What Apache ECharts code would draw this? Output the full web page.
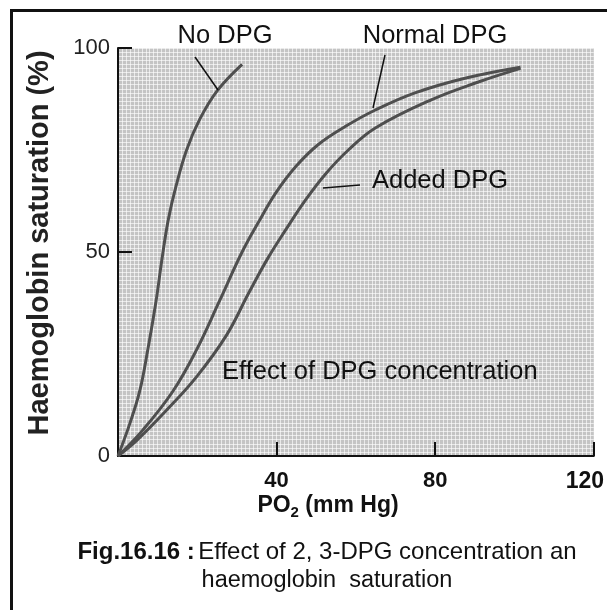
<!DOCTYPE html>
<html>
<head>
<meta charset="utf-8">
<style>
  html, body { margin: 0; padding: 0; background: #ffffff; }
  #chart { width: 607px; height: 610px; }
</style>
<script src="https://cdn.jsdelivr.net/npm/echarts@6/dist/echarts.min.js"></script>
</head>
<body>
<div id="chart"></div>
<script>
// Oxygen dissociation curves: [PO2 (mm Hg), saturation (%)]
const noDPG = [[0,0],[3,8],[5.5,16],[7.5,26],[9.6,38],[11.2,49],[12.7,58],[14.6,66],[17.3,75],[20.6,82.5],[25,89.5],[31.3,96]];
const normalDPG = [[0,0],[6.3,6.4],[13.8,15.8],[19.8,26],[25.6,38],[31.3,50],[35.6,57.6],[39.8,64.5],[44.9,71],[50.6,76.4],[57.4,80.8],[64.9,84.8],[74.9,89],[87.5,92.6],[101.5,95.3]];
const addedDPG = [[0,0],[4.8,3.9],[12.3,11.3],[19.8,19.4],[27.3,29.5],[33,40],[37.8,48.5],[42.4,55.6],[47.4,62.9],[52.4,69.2],[58.1,75],[64.9,80.4],[79,87.3],[90.7,91.6],[101.5,95]];

const xTicks = [0, 40, 80, 120];
const yTicks = [0, 50, 100];
const curveNames = ['No DPG', 'Normal DPG', 'Added DPG'];

const FONT = '"Liberation Sans", Arial, sans-serif';
const chart = echarts.init(document.getElementById('chart'), null, { renderer: 'canvas' });

const curveStyle = { color: '#4f4f4f', width: 3 };
function curve(name, data) {
  return {
    name: name,
    type: 'line',
    data: data,
    smooth: 0.4,
    symbol: 'none',
    lineStyle: curveStyle,
    xAxisIndex: 0,
    yAxisIndex: 0,
    z: 5
  };
}

// fine light mesh over the grey panel
const hiddenMesh = {
  type: 'value', min: 0, interval: 1,
  axisLine: { show: false }, axisTick: { show: false }, axisLabel: { show: false },
  splitLine: { show: true, lineStyle: { color: 'rgba(255,255,255,0.62)', width: 1 } }
};

function label(text, x, y, align) {
  return { type: 'text', x: x, y: y, z: 100,
    style: { text: text, fill: '#111', font: '25.5px ' + FONT, textAlign: align, textVerticalAlign: 'middle' } };
}
function leader(x1, y1, x2, y2) {
  return { type: 'line', z: 100, shape: { x1: x1, y1: y1, x2: x2, y2: y2 },
    style: { stroke: '#111', lineWidth: 1.5 } };
}

chart.setOption({
  animation: false,
  backgroundColor: '#ffffff',
  grid: {
    left: 118, top: 48, width: 479, height: 408,
    show: true, backgroundColor: '#c4c4c4', borderWidth: 0
  },
  xAxis: [{
    type: 'value', min: xTicks[0], max: xTicks[xTicks.length - 1], interval: 40,
    position: 'bottom',
    axisLine: { show: true, onZero: false, lineStyle: { color: '#111', width: 2 } },
    axisTick: { show: true, inside: true, length: 14, lineStyle: { color: '#111', width: 2 } },
    axisLabel: {
      margin: 14, color: '#111', fontFamily: FONT, fontWeight: 'bold', fontSize: 22,
      formatter: v => v === 0 ? '' : (v === 120 ? '{r|120}' : String(v)),
      rich: { r: { fontFamily: FONT, fontWeight: 'bold', fontSize: 23, color: '#111', padding: [0, 18, 0, 0] } }
    },
    splitLine: { show: false }
  }, Object.assign({ max: 120, position: 'top' }, hiddenMesh)],
  yAxis: [{
    type: 'value', min: yTicks[0], max: yTicks[yTicks.length - 1], interval: 50,
    axisLine: { show: true, onZero: false, lineStyle: { color: '#111', width: 2 } },
    axisTick: { show: true, inside: true, length: 14, lineStyle: { color: '#111', width: 2 } },
    axisLabel: { margin: 8, color: '#222', fontFamily: FONT, fontSize: 22 },
    splitLine: { show: false }
  }, Object.assign({ max: 100, position: 'right' }, hiddenMesh)],
  series: [
    curve(curveNames[0], noDPG),
    curve(curveNames[1], normalDPG),
    curve(curveNames[2], addedDPG)
  ],
  graphic: [
    // frame
    { type: 'rect', z: 100, shape: { x: 11.5, y: 10.5, width: 700, height: 700 },
      style: { fill: 'none', stroke: '#111', lineWidth: 3 }, silent: true },
    // y-axis title
    { type: 'text', x: 40, y: 243, z: 100, rotation: Math.PI / 2,
      style: { text: 'Haemoglobin saturation (%)', fill: '#222', font: 'bold 29px ' + FONT,
               textAlign: 'center', textVerticalAlign: 'middle' } },
    // x-axis title
    { type: 'text', x: 328, y: 506, z: 100,
      style: { text: '{m|PO}{s|2}{m| (mm Hg)}', textAlign: 'center', textVerticalAlign: 'middle',
               rich: {
                 m: { font: 'bold 23px ' + FONT, fill: '#111' },
                 s: { font: 'bold 15px ' + FONT, fill: '#111', padding: [13, 0, 0, 0] }
               } } },
    // curve labels and annotation
    label(curveNames[0], 225, 36, 'center'),
    label(curveNames[1], 435, 36, 'center'),
    label(curveNames[2], 372, 181, 'left'),
    label('Effect of DPG concentration', 222, 372, 'left'),
    leader(195, 57, 218, 90),
    leader(385, 55, 373, 108),
    leader(360, 185, 323, 188),
    // caption
    { type: 'text', x: 327, y: 552, z: 100,
      style: { text: '{b|Fig.16.16 :} {n|Effect of 2, 3-DPG concentration an}', textAlign: 'center', textVerticalAlign: 'middle',
               rich: {
                 b: { font: 'bold 24px ' + FONT, fill: '#111' },
                 n: { font: '24px ' + FONT, fill: '#111' }
               } } },
    { type: 'text', x: 327, y: 581, z: 100,
      style: { text: 'haemoglobin  saturation', fill: '#111', font: '23.5px ' + FONT, textAlign: 'center', textVerticalAlign: 'middle' } }
  ]
});
</script>
</body>
</html>
